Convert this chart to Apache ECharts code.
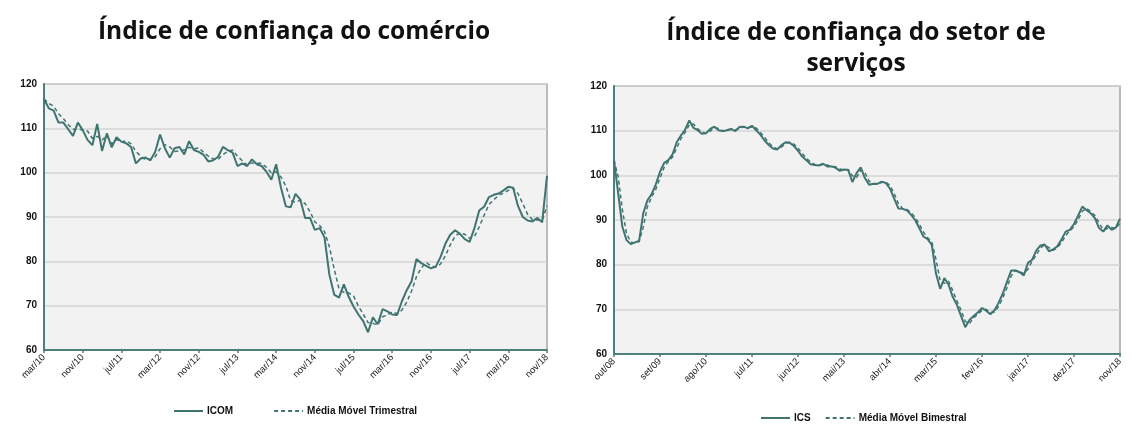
<!DOCTYPE html>
<html>
<head>
<meta charset="utf-8">
<script src="https://cdn.jsdelivr.net/npm/echarts@6/dist/echarts.min.js"></script>
<style>
html,body{margin:0;padding:0;background:#fff;}
#c{width:1140px;height:442px;}
</style>
</head>
<body>
<div id="c"></div>
<script>
// ---- month names (Portuguese) ----
const monthNames = ['jan','fev','mar','abr','mai','jun','jul','ago','set','out','nov','dez'];

// ---- Left chart: ICOM, mar/10 .. nov/18 (monthly) ----
const icomStart = { month: 2, year: 2010 };
const icomValues = [
 116.6,114.5,114.0,111.3,111.3,109.8,108.3,111.3,109.6,107.4,
 106.2,111.0,104.9,108.9,105.7,108.0,107.0,106.6,105.8,102.1,
 103.2,103.4,102.8,104.7,108.6,105.5,103.4,105.5,105.8,104.1,
 107.1,105.1,104.7,104.0,102.5,102.8,103.6,105.8,105.1,104.5,
 101.5,102.1,101.5,103.0,101.9,101.5,100.2,98.4,101.9,96.6,
 92.4,92.2,95.2,93.9,89.8,89.8,87.1,87.5,85.4,77.0,
 72.5,71.8,74.8,72.0,69.8,68.0,66.5,64.0,67.4,65.8,
 69.2,68.7,68.0,67.9,71.0,73.5,75.5,80.5,79.6,79.0,
 78.4,78.8,81.0,84.0,86.0,87.0,86.2,85.0,84.4,87.5,
 91.5,92.3,94.5,95.0,95.3,96.0,96.8,96.6,92.5,90.0,
 89.2,89.0,89.8,88.8,99.3
];
const icomMM3 = [
 116.6,115.6,115.0,113.3,112.2,110.8,109.8,109.8,109.7,109.4,
 107.7,108.2,107.4,108.3,106.5,107.5,106.9,107.2,106.5,104.8,
 103.7,102.9,103.1,103.6,105.4,106.3,105.8,104.8,104.9,105.1,
 105.7,105.4,105.6,104.6,103.7,103.1,103.0,104.1,104.8,105.1,
 103.7,102.7,101.7,102.2,102.1,102.1,101.2,100.0,100.2,99.0,
 97.0,93.7,93.3,93.8,93.0,91.2,88.9,88.1,86.7,83.3,
 78.3,73.8,73.0,72.9,72.2,69.9,68.1,66.2,66.0,65.7,
 67.5,67.9,68.6,68.2,69.0,70.8,73.3,76.5,78.5,79.7,
 79.0,78.7,79.4,81.3,83.7,85.7,86.4,86.1,85.2,85.6,
 87.8,90.4,92.8,93.9,94.9,95.4,96.0,96.5,95.3,93.0,
 90.6,89.4,89.3,89.2,92.6
];

// ---- Right chart: ICS, out/08 .. nov/18 (monthly) ----
const icsStart = { month: 9, year: 2008 };
const icsValues = [
 103.4,96.0,88.5,85.5,84.6,85.0,85.3,91.5,94.4,95.8,
 98.0,100.8,102.8,103.4,104.7,107.4,108.9,110.2,112.3,110.6,
 110.1,109.3,109.4,110.4,110.9,110.1,109.9,110.1,110.4,109.9,
 110.8,110.9,110.5,111.1,110.1,109.1,107.8,106.8,106.0,105.8,
 106.7,107.4,107.3,106.6,105.5,104.2,103.4,102.5,102.3,102.2,
 102.6,102.0,102.0,101.7,101.0,101.3,101.2,98.5,100.5,101.8,
 99.4,97.9,98.1,98.1,98.6,98.3,97.0,94.8,92.6,92.5,
 92.2,91.2,90.0,88.2,86.3,85.7,84.4,78.0,74.6,77.0,
 75.5,72.8,71.0,68.5,66.0,67.6,68.5,69.3,70.3,69.7,
 68.9,69.8,71.5,73.6,76.2,78.7,78.7,78.3,77.6,80.4,
 81.1,83.2,84.3,84.5,83.0,83.4,84.1,85.6,87.4,87.8,
 89.1,91.0,93.0,92.2,91.5,90.4,88.2,87.4,88.8,87.8,
 88.3,90.3
];
const icsMM2 = [
 103.4,99.7,92.3,87.0,85.1,84.8,85.2,88.4,93.0,95.1,
 96.9,99.4,101.8,103.1,104.1,106.1,108.2,109.6,111.3,111.5,
 110.4,109.7,109.4,109.9,110.7,110.5,110.0,110.0,110.3,110.2,
 110.4,110.9,110.7,110.8,110.6,109.6,108.5,107.3,106.4,105.9,
 106.3,107.1,107.4,107.0,106.1,104.9,103.8,103.0,102.4,102.3,
 102.4,102.3,102.0,101.9,101.4,101.2,101.3,99.9,99.5,101.2,
 100.6,98.7,98.0,98.1,98.4,98.5,97.7,95.9,93.7,92.6,
 92.4,91.7,90.6,89.1,87.3,86.0,85.1,81.2,76.3,75.8,
 76.3,74.2,71.9,69.8,67.3,66.8,68.1,68.9,69.8,70.0,
 69.3,69.4,70.7,72.6,74.9,77.5,78.7,78.5,78.0,79.0,
 80.8,82.2,83.8,84.4,83.8,83.2,83.8,84.9,86.5,87.6,
 88.5,90.1,92.0,92.6,91.9,91.0,89.3,87.8,88.1,88.3,
 88.1,89.3
];

// ---- tick label steps ----
const icomTickEvery = 8;   // mar/10, nov/10, jul/11, ...
const icsTickEvery = 11;   // out/08, set/09, ago/10, ...
const yTicks = [60, 70, 80, 90, 100, 110, 120];

function monthLabels(start, n) {
  const out = [];
  for (let k = 0; k < n; k++) {
    const m = (start.month + k) % 12;
    const y = start.year + Math.floor((start.month + k) / 12);
    out.push(monthNames[m] + '/' + String(y % 100).padStart(2, '0'));
  }
  return out;
}
const icomCats = monthLabels(icomStart, icomValues.length);
const icsCats = monthLabels(icsStart, icsValues.length);

const teal = '#3f7471';
const axisTeal = '#4e7f7c';
const fontFam = '"Liberation Sans", Arial, sans-serif';

const chart = echarts.init(document.getElementById('c'));

function xAxisCfg(gi, cats, every) {
  return {
    type: 'category', gridIndex: gi, data: cats, boundaryGap: false,
    axisLine: { lineStyle: { color: axisTeal, width: 2 } },
    axisTick: { show: true, length: 3, interval: (i) => i % every === 0, lineStyle: { color: axisTeal, width: 1.5 } },
    axisLabel: {
      interval: (i) => i % every === 0, rotate: 45, fontSize: 9.5, color: '#222',
      fontFamily: fontFam, margin: 6
    },
    splitLine: { show: false }
  };
}
function yAxisCfg(gi) {
  return {
    type: 'value', gridIndex: gi, min: yTicks[0], max: yTicks[yTicks.length - 1], interval: 10,
    axisLine: { show: true, lineStyle: { color: axisTeal, width: 2 } },
    axisTick: { show: false },
    axisLabel: { fontSize: 10, fontWeight: 'bold', color: '#111', fontFamily: fontFam, margin: 7 },
    splitLine: { show: true, lineStyle: { color: '#d4d4d4', width: 1.5 } }
  };
}

const legendText = { fontFamily: fontFam, fontWeight: 'bold', fontSize: 10, color: '#111', padding: [0, 0, 0, -1] };

chart.setOption({
  backgroundColor: '#ffffff',
  animation: false,
  title: [
    { text: 'Índice de confiança do comércio', left: 289, top: 15, textAlign: 'center',
      textStyle: { fontFamily: '"Open Sans", sans-serif', fontWeight: 'bold', fontSize: 24.5, color: '#111' } },
    { text: 'Índice de confiança do setor de\nserviços', left: 851, top: 13, textAlign: 'center',
      textStyle: { fontFamily: '"Open Sans", sans-serif', fontWeight: 'bold', fontSize: 24.5, color: '#111', lineHeight: 31 } }
  ],
  legend: [
    { data: ['ICOM', 'Média Móvel Trimestral'], left: 168, top: 401, itemWidth: 29, itemHeight: 8, itemGap: 40,
      itemStyle: { opacity: 0 }, textStyle: legendText },
    { data: ['ICS', 'Média Móvel Bimestral'], left: 755, top: 408, itemWidth: 29, itemHeight: 8, itemGap: 14,
      itemStyle: { opacity: 0 }, textStyle: legendText }
  ],
  grid: [
    { left: 44, top: 84, width: 503, height: 266, show: true, backgroundColor: '#f2f2f2', borderColor: '#a6a6a6', borderWidth: 1.5 },
    { left: 614, top: 86, width: 506, height: 268, show: true, backgroundColor: '#f2f2f2', borderColor: '#a6a6a6', borderWidth: 1.5 }
  ],
  xAxis: [ xAxisCfg(0, icomCats, icomTickEvery), xAxisCfg(1, icsCats, icsTickEvery) ],
  yAxis: [ yAxisCfg(0), yAxisCfg(1) ],
  series: [
    { name: 'ICOM', type: 'line', xAxisIndex: 0, yAxisIndex: 0, data: icomValues, symbol: 'none',
      lineStyle: { color: teal, width: 2 }, itemStyle: { color: teal } },
    { name: 'Média Móvel Trimestral', type: 'line', xAxisIndex: 0, yAxisIndex: 0, data: icomMM3, symbol: 'none',
      lineStyle: { color: teal, width: 1.5, type: [4, 3] }, itemStyle: { color: teal } },
    { name: 'ICS', type: 'line', xAxisIndex: 1, yAxisIndex: 1, data: icsValues, symbol: 'none',
      lineStyle: { color: teal, width: 2 }, itemStyle: { color: teal } },
    { name: 'Média Móvel Bimestral', type: 'line', xAxisIndex: 1, yAxisIndex: 1, data: icsMM2, symbol: 'none',
      lineStyle: { color: teal, width: 1.5, type: [4, 3] }, itemStyle: { color: teal } }
  ]
});
</script>
</body>
</html>
